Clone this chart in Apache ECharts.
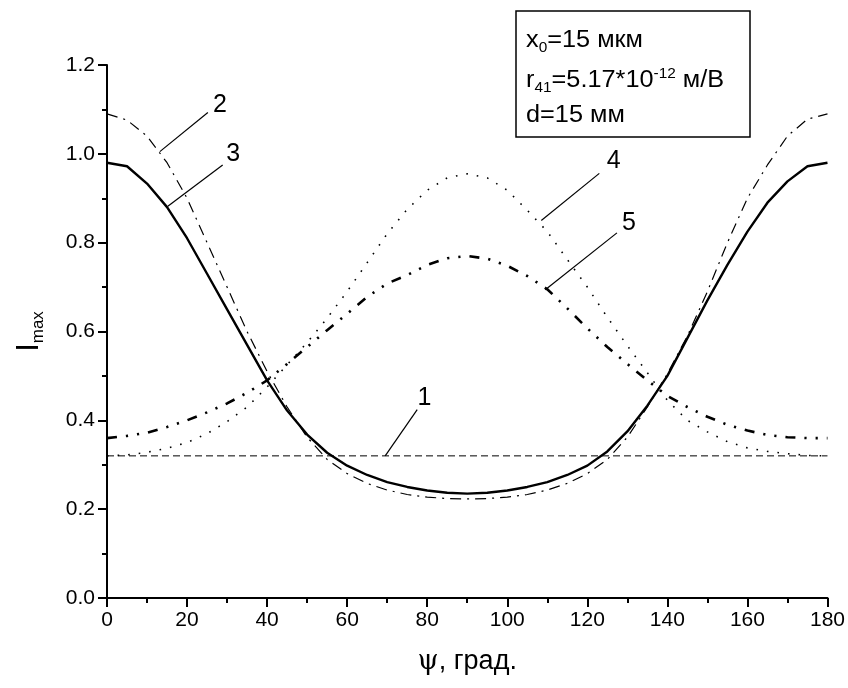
<!DOCTYPE html>
<html>
<head>
<meta charset="utf-8">
<script src="https://cdn.jsdelivr.net/npm/echarts@6/dist/echarts.min.js"></script>
<style>
  html, body { margin: 0; padding: 0; background: #fff; }
  #chart { width: 848px; height: 688px; }
</style>
</head>
<body>
<div id="chart"></div>
<script>
// angle grid of the computed curves, degrees
const psiDeg = [0, 5, 10, 15, 20, 25, 30, 35, 40, 45, 50, 55, 60, 65, 70, 75, 80, 85, 90,
  95, 100, 105, 110, 115, 120, 125, 130, 135, 140, 145, 150, 155, 160, 165, 170, 175, 180]

// curve 1 is a flat reference level
const curve1Psi = [0, 180]
const curve1 = [0.32, 0.32]

const curve2 = [1.09, 1.076, 1.04, 0.98, 0.9, 0.8, 0.7, 0.6, 0.51, 0.43, 0.362, 0.312, 0.28, 0.258, 0.243, 0.233, 0.227, 0.224, 0.223,
  0.224, 0.227, 0.233, 0.243, 0.258, 0.28, 0.312, 0.362, 0.43, 0.505, 0.59, 0.69, 0.8, 0.9, 0.975, 1.04, 1.078, 1.09]

const curve3 = [0.98, 0.972, 0.933, 0.88, 0.81, 0.73, 0.65, 0.57, 0.49, 0.422, 0.368, 0.327, 0.298, 0.277, 0.261, 0.25, 0.242, 0.237, 0.235,
  0.237, 0.242, 0.25, 0.261, 0.277, 0.298, 0.33, 0.375, 0.433, 0.5, 0.585, 0.67, 0.75, 0.825, 0.89, 0.938, 0.972, 0.98]

const curve4 = [0.32, 0.322, 0.328, 0.337, 0.35, 0.37, 0.397, 0.43, 0.475, 0.525, 0.575, 0.63, 0.69, 0.755, 0.82, 0.875, 0.918, 0.946, 0.955,
  0.946, 0.918, 0.873, 0.825, 0.762, 0.7, 0.632, 0.568, 0.507, 0.445, 0.4, 0.374, 0.352, 0.338, 0.33, 0.325, 0.321, 0.32]

const curve5 = [0.36, 0.365, 0.372, 0.385, 0.4, 0.418, 0.438, 0.462, 0.49, 0.527, 0.565, 0.603, 0.64, 0.678, 0.708, 0.727, 0.75, 0.765, 0.77,
  0.764, 0.748, 0.725, 0.695, 0.652, 0.607, 0.565, 0.527, 0.49, 0.455, 0.43, 0.408, 0.39, 0.377, 0.367, 0.362, 0.36, 0.36]

// curve numbers with their leader lines, in data units (psi, I)
const curveNames = ['1', '2', '3', '4', '5']
const leaderFrom = [[69.5, 0.32], [13.2, 1.005], [15.2, 0.882], [108.5, 0.85], [109.5, 0.694]]
const leaderTo = [[77.5, 0.424], [25.2, 1.093], [28.9, 0.975], [123, 0.956], [127.4, 0.822]]
const nameAt = [[79.3, 0.45], [28.2, 1.11], [31.5, 1.0], [126.6, 0.983], [130.4, 0.843]]

const FONT = '"Liberation Sans", Arial, sans-serif'

const chartInstance = echarts.init(document.getElementById('chart'))

function zip(xs, ys) {
  return ys.map((v, i) => [xs[i], v])
}

function curveSeries(name, xs, ys, lineStyle) {
  return {
    name,
    type: 'line',
    data: zip(xs, ys),
    showSymbol: false,
    symbol: 'none',
    silent: true,
    lineStyle: Object.assign({ color: '#000', cap: 'butt' }, lineStyle)
  }
}

chartInstance.setOption({
  animation: false,
  backgroundColor: '#fff',
  grid: { left: 107, right: 19, top: 65, bottom: 90 },
  xAxis: {
    type: 'value',
    min: 0,
    max: 180,
    interval: 20,
    name: '{psi|ψ}{t|, град.}',
    nameLocation: 'middle',
    nameGap: 50,
    nameTextStyle: {
      rich: {
        psi: { fontFamily: '"DejaVu Serif", serif', fontSize: 27, color: '#000' },
        t: { fontFamily: FONT, fontSize: 27, color: '#000' }
      }
    },
    axisLine: { show: true, onZero: false, lineStyle: { color: '#000', width: 2 } },
    axisTick: { show: true, length: 9, lineStyle: { color: '#000', width: 2 } },
    minorTick: { show: true, splitNumber: 2, length: 5, lineStyle: { color: '#000', width: 2 } },
    splitLine: { show: false },
    axisLabel: { color: '#000', fontFamily: FONT, fontSize: 21, margin: 12 }
  },
  yAxis: {
    type: 'value',
    min: 0,
    max: 1.2,
    interval: 0.2,
    name: '{i|I}{sub|max}',
    nameLocation: 'middle',
    nameRotate: 90,
    nameGap: 60,
    nameTextStyle: {
      rich: {
        i: { fontFamily: FONT, fontSize: 31, color: '#000', lineHeight: 36 },
        sub: { fontFamily: FONT, fontSize: 17, color: '#000', verticalAlign: 'bottom', lineHeight: 17 }
      }
    },
    axisLine: { show: true, onZero: false, lineStyle: { color: '#000', width: 2 } },
    axisTick: { show: true, length: 9, lineStyle: { color: '#000', width: 2 } },
    minorTick: { show: true, splitNumber: 2, length: 5, lineStyle: { color: '#000', width: 2 } },
    splitLine: { show: false },
    axisLabel: {
      color: '#000',
      fontFamily: FONT,
      fontSize: 21,
      margin: 12,
      formatter: (v) => v.toFixed(1)
    }
  },
  series: [
    curveSeries('1', curve1Psi, curve1, { width: 1, type: [7, 4] }),
    curveSeries('2', psiDeg, curve2, { width: 1.2, type: [11, 6, 2, 6] }),
    curveSeries('3', psiDeg, curve3, { width: 2.4, type: 'solid' }),
    curveSeries('4', psiDeg, curve4, { width: 1.6, type: [1.6, 9] }),
    curveSeries('5', psiDeg, curve5, { width: 2.6, type: [10, 9, 2.2, 9, 2.2, 9] })
  ]
})

// leader lines, curve numbers and the parameter box
const toPx = (p) => chartInstance.convertToPixel({ gridIndex: 0 }, p)
const annotations = []
curveNames.forEach((label, i) => {
  const a = toPx(leaderFrom[i])
  const b = toPx(leaderTo[i])
  const c = toPx(nameAt[i])
  annotations.push({
    type: 'line',
    silent: true,
    shape: { x1: a[0], y1: a[1], x2: b[0], y2: b[1] },
    style: { stroke: '#000', lineWidth: 1.2 }
  })
  annotations.push({
    type: 'text',
    silent: true,
    x: c[0],
    y: c[1],
    style: { text: label, fill: '#000', font: '25px ' + FONT, align: 'center', verticalAlign: 'middle' }
  })
})

const boxRich = {
  m: { fontFamily: FONT, fontSize: 23, fill: '#000', lineHeight: 28 },
  sub: { fontFamily: FONT, fontSize: 14, fill: '#000', verticalAlign: 'bottom', lineHeight: 12 },
  sup: { fontFamily: FONT, fontSize: 14, fill: '#000', verticalAlign: 'top', lineHeight: 12 }
}
const boxLines = [
  ['{m|x}{sub|0}{m|=15 мкм}', 41],
  ['{m|r}{sub|41}{m|=5.17*10}{sup|-12}{m| м/В}', 81],
  ['{m|d=15 мм}', 116]
]
annotations.push({
  type: 'rect',
  silent: true,
  shape: { x: 516, y: 11, width: 234, height: 126 },
  style: { fill: '#fff', stroke: '#000', lineWidth: 1.5 }
})
boxLines.forEach(([text, y]) => {
  annotations.push({
    type: 'text',
    silent: true,
    x: 526,
    y,
    scaleX: 1.1,
    style: { text, rich: boxRich, font: '23px ' + FONT, fill: '#000', verticalAlign: 'middle' }
  })
})

chartInstance.setOption({ graphic: annotations })
</script>
</body>
</html>
